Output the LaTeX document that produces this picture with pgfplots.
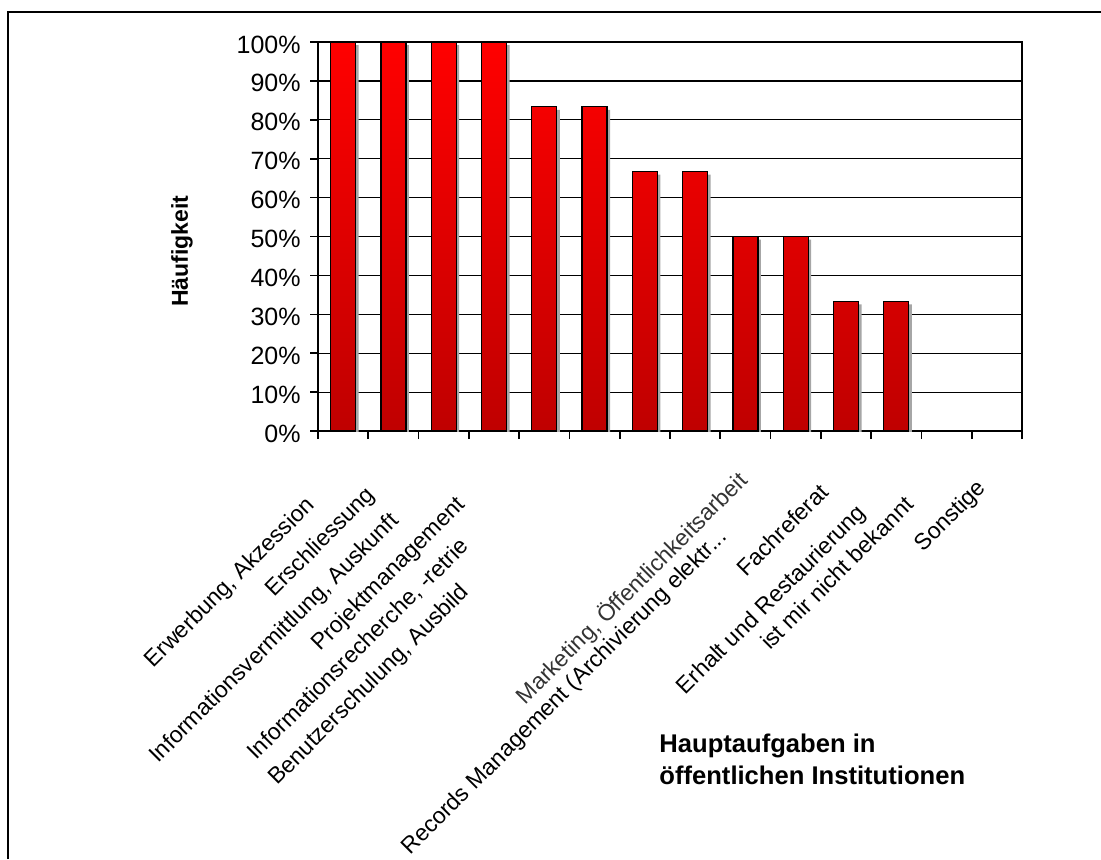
\documentclass[border=0pt]{standalone}
\usepackage{fontspec}
\setmainfont{Liberation Sans}
\usepackage{pgfplots}
\pgfplotsset{compat=1.18}

\newcommand{\catfont}{\fontsize{11.5}{13}\selectfont}

\begin{document}
\begin{tikzpicture}
% 1 px of the reference = 0.5pt
\begin{axis}[
  at={(159pt,-215.5pt)}, anchor=south west,
  scale only axis, width=352pt, height=194.5pt,
  ybar, bar width=12.5pt,
  ymin=0, ymax=100, xmin=-0.5, xmax=13.5,
  ytick={0,10,...,100},
  yticklabels={0\%,10\%,20\%,30\%,40\%,50\%,60\%,70\%,80\%,90\%,100\%},
  xtick={-0.5,0.5,...,13.5}, xticklabels={},
  xtick pos=bottom, ytick pos=left,
  tick align=outside, major tick length=4pt,
  tick style={black, line width=0.8pt},
  ymajorgrids, grid style={black, line width=0.6pt},
  axis line style={black, line width=0.8pt},
  yticklabel style={font=\fontsize{12.5}{14}\selectfont, inner sep=0pt, xshift=-4.5pt, yshift=-1.2pt},
]
% shadow
\addplot[bar shift=1.5pt, fill=black!35, draw=none, yshift=-1.5pt] coordinates
{(0,100) (1,100) (2,100) (3,100) (4,83.33) (5,83.33) (6,66.67) (7,66.67) (8,50) (9,50) (10,33.33) (11,33.33)};
% bars
\addplot[bar shift=0pt, draw=black, line width=0.6pt, top color=red, bottom color=red!75!black] coordinates
{(0,100) (1,100) (2,100) (3,100) (4,83.33) (5,83.33) (6,66.67) (7,66.67) (8,50) (9,50) (10,33.33) (11,33.33)};
\addplot[bar shift=0pt, draw=none, fill=none] coordinates {(12,0) (13,0)};
\end{axis}

\begin{scope}[x=0.5pt, y=0.5pt]
\useasboundingbox (0,0) rectangle (1101,-859);
\draw[line width=1pt] (8,-859) -- (8,-12) -- (1101,-12);

\node[rotate=90, font=\bfseries\fontsize{11.5}{13}\selectfont] at (182,-251) {Häufigkeit};

\begin{scope}[every node/.style={rotate=45, anchor=north east, inner sep=0pt, font=\catfont}]
\node at (304,-494) {Erwerbung, Akzession};
\node at (364,-484) {Erschliessung};
\node at (388,-510) {Informationsvermittlung, Auskunft};
\node at (454,-494) {Projektmanagement};
\node at (458,-535) {Informationsrecherche, -retrie};
\node at (458,-581) {Benutzerschulung, Ausbild};
\node[text=black!80] at (735,-468) {Marketing, Öffentlichkeitsarbeit};
\node at (716,-526) {Records Management (Archivierung elektr...};
\node at (818,-482) {Fachreferat};
\node at (855,-502) {Erhalt und Restaurierung};
\node at (903,-494) {ist mir nicht bekannt};
\node at (975,-477) {Sonstige};
\end{scope}

\node[anchor=base west, inner sep=0pt, font=\bfseries\fontsize{12.8}{15}\selectfont] at (659,-752) {Hauptaufgaben in};
\node[anchor=base west, inner sep=0pt, font=\bfseries\fontsize{12.8}{15}\selectfont] at (659,-784) {öffentlichen Institutionen};
\end{scope}
\end{tikzpicture}
\end{document}
